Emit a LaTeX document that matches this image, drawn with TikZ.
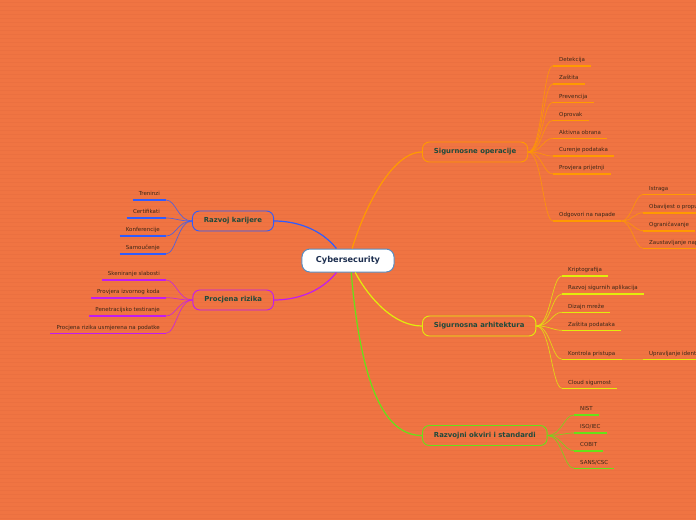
\documentclass[tikz,border=0pt]{standalone}
\usepackage{fontspec}
\setmainfont{DejaVu Sans}
\usepackage{tikz}
\usetikzlibrary{arrows.meta, positioning, calc}
\definecolor{mbg}{HTML}{F07442}
\definecolor{mstripe}{HTML}{EB7040}
\definecolor{mroot}{HTML}{5A8DC0}
\definecolor{rootink}{HTML}{1C2E4F}
\definecolor{topink}{HTML}{1E4A3C}
\definecolor{leafink}{HTML}{3B2718}
\definecolor{corange}{HTML}{FF9A00}
\definecolor{cyellow}{HTML}{E2EC0C}
\definecolor{cgreen}{HTML}{66E218}
\definecolor{cblue}{HTML}{2F5CFF}
\definecolor{cpurple}{HTML}{C21CF0}
\tikzset{
  root/.style={
    draw=mroot, fill=white, line width=1pt, rounded corners=8pt,
    minimum height=23pt, inner xsep=14pt, text=rootink,
    font=\fontsize{8.2}{9}\selectfont\bfseries
  },
  topic/.style={
    draw=#1, line width=0.9pt, rounded corners=7pt, minimum height=20pt,
    inner xsep=11.5pt, text=topink, font=\fontsize{6.9}{8}\selectfont\bfseries
  },
  leaf/.style={
    inner xsep=6pt, inner ysep=2.5pt, text height=4pt, text depth=1.5pt,
    text=leafink, font=\fontsize{5.5}{6}\selectfont
  },
  uline/.style={draw=#1, line width=1.6pt},
  branch/.style={draw=#1, line width=1.2pt},
  twig/.style={draw=#1, line width=0.7pt, draw opacity=0.8}
}
\begin{document}
\begin{tikzpicture}[x=1pt, y=-1pt]
  \fill[mbg] (0,0) rectangle (696,520);
  \useasboundingbox (0,0) rectangle (696,520);
  \clip (0,0) rectangle (696,520);
  \foreach \yy in {2,6,...,518} \draw[mstripe, line width=0.6pt] (0,\yy) -- (696,\yy);

  % root and main topics
  \node[root] (cs) at (348,260.5) {Cybersecurity};
  \node[topic=corange, anchor=west] (so) at (422,152) {Sigurnosne operacije};
  \node[topic=cyellow, anchor=west] (sa) at (422,326) {Sigurnosna arhitektura};
  \node[topic=cgreen, anchor=west] (ro) at (422,435.5) {Razvojni okviri i standardi};
  \node[topic=cblue, anchor=east] (rk) at (274,221) {Razvoj karijere};
  \node[topic=cpurple, anchor=east] (pr) at (274,300) {Procjena rizika};

  \draw[branch=corange] (cs.71) .. controls (362,215) and (390,152) .. (so.west);
  \draw[branch=cyellow] (cs.301) .. controls (370,300) and (395,326) .. (sa.west);
  \draw[branch=cgreen] (cs.285) .. controls (362,400) and (390,435.5) .. (ro.west);
  \draw[branch=cblue] (cs.134) .. controls (320,228) and (295,221) .. (rk.east);
  \draw[branch=cpurple] (cs.226) .. controls (320,293) and (295,300) .. (pr.east);

  % Sigurnosne operacije
  \foreach \txt/\yy [count=\i] in {Detekcija/65.7, Zaštita/84, Prevencija/102.3,
      Oprovak/120.3, Aktivna obrana/138.3, Curenje podataka/156,
      Provjera prijetnji/174, Odgovori na napade/221}{
    \node[leaf, anchor=south west] (so\i) at (553,\yy) {\txt};
    \draw[uline=corange] (so\i.south west) -- (so\i.south east);
    \draw[twig=corange] (so.east) .. controls +(14,0) and +(-10,0) .. (so\i.south west);
  }
  \foreach \txt/\yy [count=\i] in {Istraga/194.3, Obavijest o propustu/212.7,
      Ograničavanje/230.7, Zaustavljanje napada/248.3}{
    \node[leaf, anchor=south west] (od\i) at (643,\yy) {\txt};
    \draw[uline=corange] (od\i.south west) -- (od\i.south east);
    \draw[twig=corange] (so8.south east) .. controls +(10,0) and +(-8,0) .. (od\i.south west);
  }
  \draw[uline=corange] (od1.south east) -- ++(40,0);

  % Sigurnosna arhitektura
  \foreach \txt/\yy [count=\i] in {Kriptografija/276, Razvoj sigurnih aplikacija/294,
      Dizajn mreže/312.3, Zaštita podataka/330.3, Kontrola pristupa/359.3,
      Cloud sigurnost/388.3}{
    \node[leaf, anchor=south west] (sa\i) at (562,\yy) {\txt};
    \draw[uline=cyellow] (sa\i.south west) -- (sa\i.south east);
    \draw[twig=cyellow] (sa.east) .. controls +(14,0) and +(-10,0) .. (sa\i.south west);
  }
  \node[leaf, anchor=south west] (ui) at (643,359.3) {Upravljanje identitetom};
  \draw[uline=cyellow] (ui.south west) -- (ui.south east);
  \draw[uline=cyellow, draw opacity=0.4] (sa5.south east) -- (ui.south west);

  % Razvojni okviri i standardi
  \foreach \txt/\yy [count=\i] in {NIST/415, {ISO/IEC}/433, COBIT/450.7, {SANS/CSC}/468.3}{
    \node[leaf, anchor=south west] (ro\i) at (574,\yy) {\txt};
    \draw[uline=cgreen] (ro\i.south west) -- (ro\i.south east);
    \draw[twig=cgreen] (ro.east) .. controls +(14,0) and +(-10,0) .. (ro\i.south west);
  }

  % Razvoj karijere
  \foreach \txt/\yy [count=\i] in {Treninzi/200, Certifikati/218, Konferencije/236, Samoučenje/254}{
    \node[leaf, anchor=south east] (rk\i) at (166,\yy) {\txt};
    \draw[uline=cblue] (rk\i.south west) -- (rk\i.south east);
    \draw[twig=cblue] (rk.west) .. controls +(-14,0) and +(10,0) .. (rk\i.south east);
  }

  % Procjena rizika
  \foreach \txt/\yy [count=\i] in {Skeniranje slabosti/280, Provjera izvornog koda/297.7,
      Penetracijsko testiranje/316, Procjena rizika usmjerena na podatke/333.3}{
    \node[leaf, anchor=south east] (pr\i) at (166,\yy) {\txt};
    \draw[uline=cpurple] (pr\i.south west) -- (pr\i.south east);
    \draw[twig=cpurple] (pr.west) .. controls +(-14,0) and +(10,0) .. (pr\i.south east);
  }
\end{tikzpicture}
\end{document}
